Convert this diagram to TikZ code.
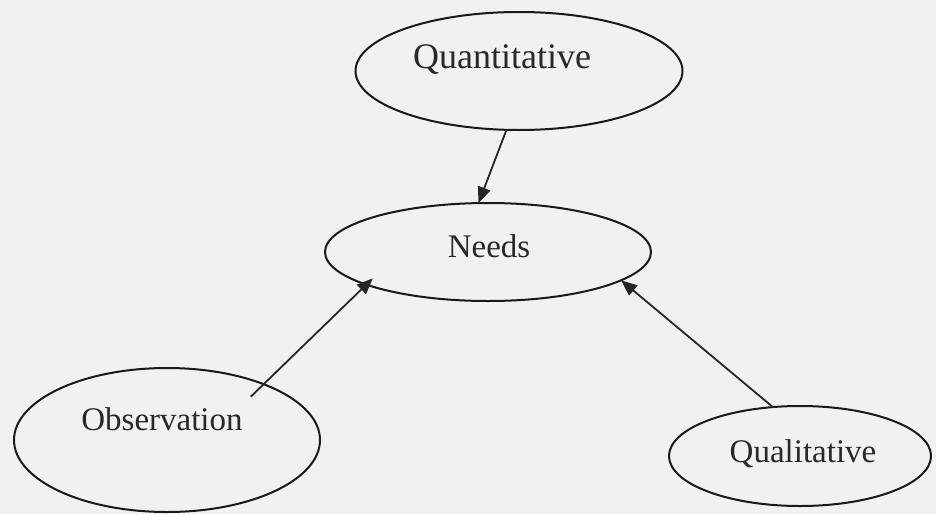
\documentclass[tikz,border=0pt]{standalone}
\usepackage{fontspec}
\setmainfont{Liberation Serif}
\usetikzlibrary{shapes.geometric,arrows.meta}
\definecolor{paper}{RGB}{241,241,240}
\definecolor{ink}{RGB}{40,40,40}
\tikzset{
  oval/.style={draw=black!90, ellipse, line width=2pt, inner sep=0pt, outer sep=0pt},
  lbl/.style={text=ink, anchor=base, inner sep=0pt, font=\fontsize{33}{40}\selectfont},
  arr/.style={draw=black!85, line width=1.8pt, -{Triangle[length=16pt,width=13pt]}}
}
\begin{document}
\begin{tikzpicture}[x=1pt,y=-1pt]
\fill[paper] (0,0) rectangle (936,514);
\useasboundingbox (0,0) rectangle (936,514);
\node[oval, minimum width=327pt, minimum height=118pt] (quant) at (519,71) {};
\node[oval, minimum width=326pt, minimum height=98pt] (needs) at (488,252) {};
\node[oval, minimum width=306pt, minimum height=144pt] (obs) at (167,440) {};
\node[oval, minimum width=262pt, minimum height=100pt] (qual) at (800,456) {};
\node[lbl, font=\fontsize{36}{42}\selectfont] (tquant) at (502,68) {Quantitative};
\node[lbl] (tneeds) at (489,257) {Needs};
\node[lbl] (tobs) at (162,430) {Observation};
\node[lbl] (tqual) at (803,462) {Qualitative};
\draw[arr] (quant.258) -- (needs.101.5);
\draw[arr, shorten <=-18pt, shorten >=-9pt] (obs.30) -- (needs.195);
\draw[arr] (qual.119) -- (needs.348);
\end{tikzpicture}
\end{document}
